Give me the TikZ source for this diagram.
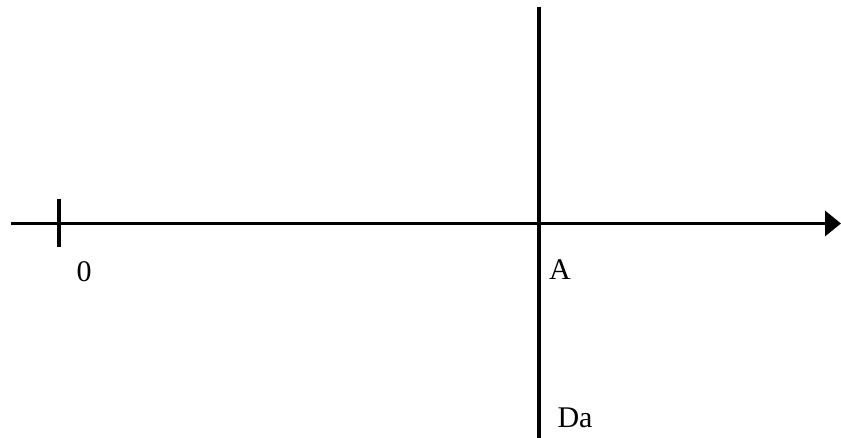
\documentclass[tikz,border=0pt]{standalone}
\usepackage{fontspec}
\setmainfont{Liberation Serif}
\usetikzlibrary{arrows.meta,positioning}

\begin{document}
\begin{tikzpicture}[x=1pt,y=1pt,
  ln/.style={line width=3.5pt,color=black},
  ax/.style={ln,-{Triangle[length=16pt,width=25pt]}},
  lbl/.style={inner sep=0pt,font=\fontsize{30}{34}\selectfont}]
  \useasboundingbox (0,0) rectangle (841,438);
  \coordinate (xs) at (11,214.5);
  \coordinate (xe) at (841,214.5);
  \coordinate (tt) at (59,239);
  \coordinate (tb) at (59,191);
  \coordinate (vt) at (539,431);
  \coordinate (vb) at (539,0);
  \node[lbl] (zero) at (84,166) {0};
  \node[lbl] (a) at (560,168) {A};
  \node[lbl] (da) at (575,20) {Da};
  \draw[ax] (xs)--(xe);
  \draw[ln] (tt)--(tb);
  \draw[ln] (vt)--(vb);
\end{tikzpicture}
\end{document}
